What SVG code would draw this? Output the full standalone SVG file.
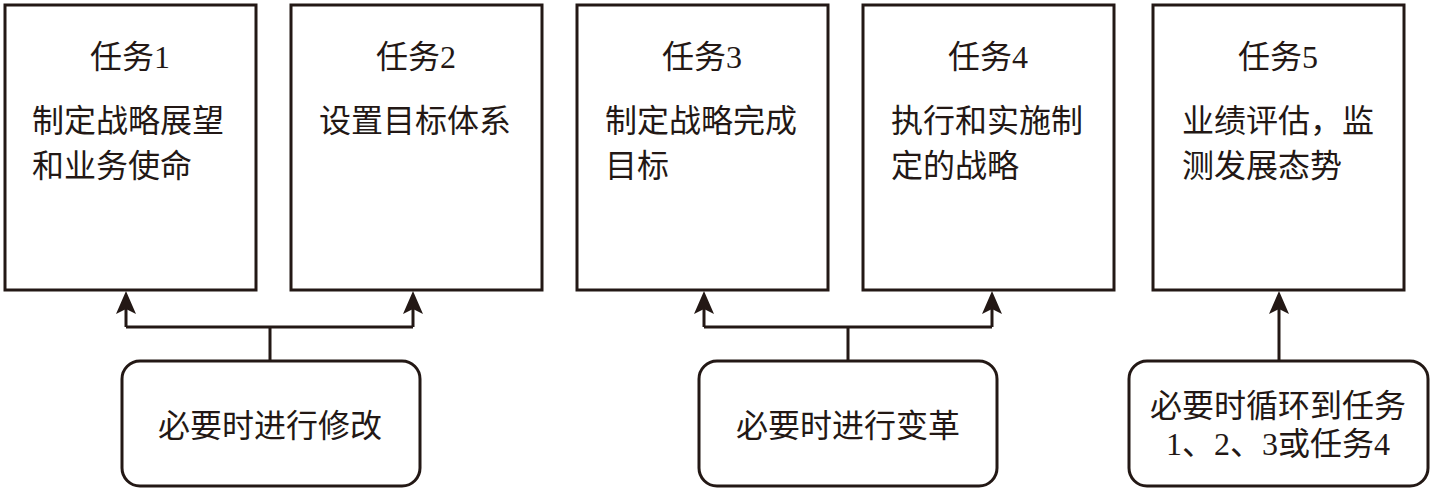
<svg xmlns="http://www.w3.org/2000/svg" width="1432" height="492" viewBox="0 0 1432 492">
<style>
.box{fill:#fff;stroke:#231815;stroke-width:3}
.rbox{fill:#fff;stroke:#231815;stroke-width:3}
.t{font-family:"Liberation Serif","Noto Sans CJK SC",serif;font-size:32px;fill:#231815}
.c{text-anchor:middle}
.ln{fill:none;stroke:#231815;stroke-width:3}
</style>
<defs>
<marker id="ah" markerUnits="userSpaceOnUse" viewBox="-24 -11 25 22" refX="-6" refY="0" markerWidth="25" markerHeight="22" orient="auto">
<path d="M0,0 L-23,-10 L-18,0 L-23,10 Z" fill="#231815"/>
</marker>
</defs>
<rect width="1432" height="492" fill="#fff"/>
<g id="task1">
<rect class="box" x="5" y="5" width="251" height="285"/>
<text class="t c" x="130" y="68">任务1</text>
<text class="t" x="32" y="132">制定战略展望</text>
<text class="t" x="32" y="177">和业务使命</text>
</g>
<g id="task2">
<rect class="box" x="291" y="5" width="251" height="285"/>
<text class="t c" x="416" y="68">任务2</text>
<text class="t" x="319" y="132">设置目标体系</text>
</g>
<g id="task3">
<rect class="box" x="577" y="5" width="251" height="285"/>
<text class="t c" x="702" y="68">任务3</text>
<text class="t" x="605" y="132">制定战略完成</text>
<text class="t" x="605" y="177">目标</text>
</g>
<g id="task4">
<rect class="box" x="863" y="5" width="251" height="285"/>
<text class="t c" x="988" y="68">任务4</text>
<text class="t" x="891" y="132">执行和实施制</text>
<text class="t" x="891" y="177">定的战略</text>
</g>
<g id="task5">
<rect class="box" x="1153" y="5" width="251" height="285"/>
<text class="t c" x="1278" y="68">任务5</text>
<text class="t" x="1182" y="132">业绩评估，监</text>
<text class="t" x="1182" y="177">测发展态势</text>
</g>
<g id="modify">
<rect class="rbox" x="122" y="361" width="298" height="125" rx="18" ry="18"/>
<text class="t c" x="270" y="437">必要时进行修改</text>
</g>
<g id="change">
<rect class="rbox" x="699" y="361" width="298" height="125" rx="18" ry="18"/>
<text class="t c" x="848" y="437">必要时进行变革</text>
</g>
<g id="loop">
<rect class="rbox" x="1129" y="361" width="299" height="125" rx="18" ry="18"/>
<text class="t c" x="1278" y="417">必要时循环到任务</text>
<text class="t c" x="1278" y="455">1、2、3或任务4</text>
</g>
<g id="connectors">
<path class="ln" d="M270,361 V327 M126,327 H413 M848,361 V327 M704,327 H992"/>
<path class="ln" d="M126,327 V297" marker-end="url(#ah)"/>
<path class="ln" d="M413,327 V297" marker-end="url(#ah)"/>
<path class="ln" d="M704,327 V297" marker-end="url(#ah)"/>
<path class="ln" d="M992,327 V297" marker-end="url(#ah)"/>
<path class="ln" d="M1279,361 V297" marker-end="url(#ah)"/>
</g>
</svg>
